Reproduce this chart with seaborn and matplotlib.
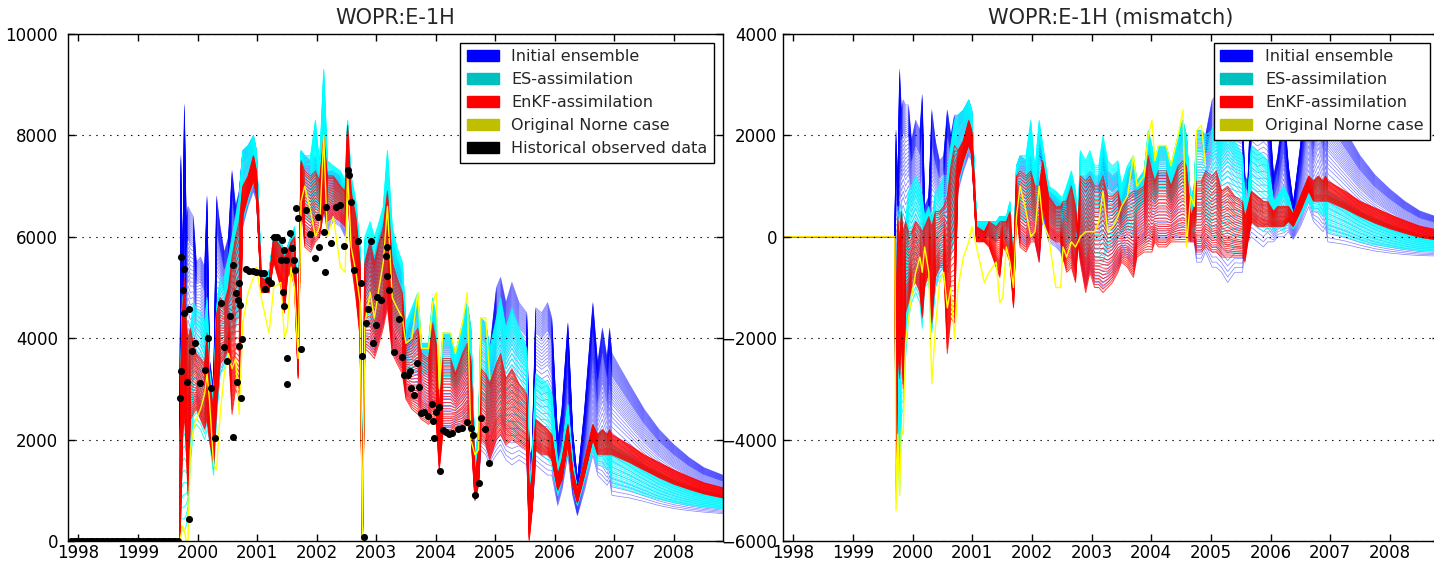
import numpy as np
import pandas as pd
import matplotlib
matplotlib.use("Agg")
import matplotlib.pyplot as plt
from matplotlib.patches import Patch
import seaborn as sns

# ---------------- data ----------------
years = [1997.84, 1999.70, 1999.72, 1999.75, 1999.78, 1999.81, 1999.84, 1999.88, 1999.93, 1999.98,
         2000.05, 2000.12, 2000.16, 2000.20, 2000.27, 2000.32, 2000.38, 2000.45, 2000.52, 2000.58,
         2000.64, 2000.70, 2000.76, 2000.85, 2000.94, 2000.99, 2001.07, 2001.20, 2001.28, 2001.40,
         2001.46, 2001.51, 2001.57, 2001.63, 2001.69, 2001.74, 2001.80, 2001.90, 2001.98, 2002.05,
         2002.12, 2002.18, 2002.28, 2002.40, 2002.48, 2002.52, 2002.58, 2002.66, 2002.73, 2002.77,
         2002.81, 2002.90, 2002.97, 2003.05, 2003.12, 2003.19, 2003.27, 2003.35, 2003.44, 2003.50,
         2003.60, 2003.70, 2003.76, 2003.88, 2003.95, 2004.01, 2004.06, 2004.12, 2004.25, 2004.33,
         2004.45, 2004.53, 2004.59, 2004.66, 2004.72, 2004.76, 2004.84, 2004.91, 2005.02, 2005.09,
         2005.18, 2005.28, 2005.40, 2005.53, 2005.57, 2005.62, 2005.68, 2005.78, 2005.88, 2005.95,
         2006.05, 2006.12, 2006.22, 2006.30, 2006.38, 2006.50, 2006.64, 2006.72, 2006.80, 2006.88,
         2006.92, 2006.96, 2007.25, 2007.50, 2007.75, 2008.00, 2008.25, 2008.50, 2008.82]

blue_lo = [0, 0, 2800, 3300, 3600, 2500, 2600, 2400, 2600, 2800,
           2500, 2300, 2600, 2200, 1400, 2500, 3300, 3500, 3800, 4100,
           4300, 4600, 6200, 6600, 6900, 6700, 5000, 5000, 5700, 5500,
           5300, 5400, 5500, 5300, 3600, 6800, 5900, 5800, 6000, 6000,
           6500, 6100, 6300, 6200, 6000, 7000, 5800, 5000, 4200, 0,
           3900, 3800, 3700, 4000, 4300, 4700, 3800, 3600, 3400, 2900,
           2800, 2700, 2600, 2500, 2600, 2600, 1500, 2200, 2200, 2300,
           2300, 2400, 2200, 800, 1100, 1800, 1700, 1500, 1700, 1800,
           1600, 1500, 1600, 1500, 300, 600, 1500, 1400, 1300, 1300,
           700, 1000, 1700, 900, 500, 1000, 1700, 1300, 1200, 1100,
           1200, 900, 850, 780, 700, 640, 600, 570, 540]
blue_hi = [0, 0, 7600, 5200, 8600, 6300, 6600, 6500, 6400, 5500,
           5600, 5400, 6800, 3600, 3000, 6800, 6200, 5700, 6000, 7300,
           6600, 6900, 7700, 7800, 8000, 7700, 5300, 5300, 6000, 5900,
           5700, 5800, 6000, 6000, 4000, 7700, 7600, 7500, 7600, 7300,
           9000, 7300, 7300, 7200, 7000, 8100, 7000, 6600, 5700, 200,
           5500, 6000, 5600, 6100, 6400, 7500, 6000, 5600, 5300, 4100,
           4500, 4800, 3900, 3900, 4700, 4300, 3000, 4100, 4100, 3700,
           4300, 4700, 4200, 1600, 2200, 4400, 4300, 3800, 5000, 5200,
           4700, 5100, 4700, 4500, 1700, 1800, 4600, 4500, 4700, 4400,
           2000, 2600, 4300, 2200, 1200, 2600, 4700, 3500, 4200, 3600,
           4200, 3700, 3100, 2600, 2200, 1900, 1650, 1450, 1300]
cyan_lo = [0, 0, 300, 200, 200, 300, 500, 1500, 2200, 2300,
           2200, 2000, 2200, 2000, 1300, 2400, 3300, 3400, 3700, 4000,
           4200, 4500, 6300, 6700, 7100, 6800, 5000, 5000, 5700, 5500,
           5300, 5400, 5500, 5300, 3600, 7000, 6400, 6300, 6500, 6400,
           7000, 6600, 6700, 6600, 6400, 7200, 6000, 5400, 4500, 0,
           4200, 4300, 4100, 4500, 4800, 5200, 4500, 4200, 4000, 3400,
           3400, 3300, 3300, 3300, 3400, 3400, 2200, 3200, 3200, 3000,
           3300, 3400, 3100, 900, 1200, 2800, 2700, 2200, 2300, 2400,
           2200, 2100, 2000, 1900, 200, 700, 1800, 1700, 1600, 1500,
           900, 1200, 1800, 1100, 700, 1200, 1800, 1500, 1500, 1400,
           1500, 1100, 1000, 900, 820, 760, 710, 670, 640]
cyan_hi = [0, 0, 3500, 4800, 5000, 4500, 3900, 4200, 4700, 4600,
           4500, 4300, 4800, 3400, 2800, 4600, 5200, 5200, 5600, 6000,
           6400, 6800, 7700, 7800, 8000, 7700, 5300, 5300, 6000, 5900,
           5700, 5800, 6000, 6200, 4000, 7700, 7600, 7600, 8300, 7400,
           9300, 7500, 7400, 7300, 7100, 8300, 7200, 6700, 5800, 200,
           6000, 6300, 6000, 6300, 6600, 7700, 6200, 5800, 5500, 4300,
           4600, 4900, 3900, 3900, 4800, 4400, 3000, 4100, 4100, 3700,
           4300, 4700, 4200, 1600, 2200, 4400, 4300, 3800, 4400, 4800,
           4200, 4600, 4200, 3800, 1200, 1500, 3300, 3200, 3100, 2900,
           1500, 1800, 2700, 1600, 1000, 1600, 2300, 2100, 2200, 2100,
           2200, 1900, 1700, 1500, 1350, 1200, 1080, 980, 900]
red_lo = [0, 0, 500, 2000, 2500, 1800, 900, 2400, 2500, 2600,
          2400, 2200, 2400, 2000, 1500, 2600, 3500, 3600, 3800, 2500,
          3000, 2800, 6400, 6800, 7100, 6800, 4900, 4900, 5500, 5000,
          4500, 5200, 5300, 5000, 3200, 6800, 5800, 5700, 5900, 6000,
          6500, 6300, 6400, 6300, 6200, 7100, 5500, 4800, 4000, 0,
          3800, 3700, 3600, 3900, 4200, 4600, 3700, 3500, 3300, 2800,
          2600, 2500, 2400, 2300, 2400, 2300, 1400, 2100, 2100, 2200,
          2200, 2300, 2100, 800, 1100, 2000, 1900, 1600, 2000, 2100,
          1900, 2000, 1900, 1800, 0, 600, 1800, 1700, 1700, 1600,
          1000, 1200, 1900, 1100, 750, 1300, 2000, 1700, 1700, 1700,
          1700, 1700, 1550, 1400, 1250, 1120, 1020, 930, 850]
red_hi = [0, 0, 3400, 4600, 5200, 4300, 4000, 4200, 3900, 3700,
          3600, 3500, 4100, 3200, 2600, 4500, 4800, 4700, 5000, 5600,
          6000, 6300, 7000, 7200, 7600, 7300, 5200, 5100, 6000, 5800,
          5600, 5700, 5900, 6000, 4000, 7500, 7300, 7200, 7300, 7100,
          8000, 7200, 7200, 7000, 6900, 8200, 6900, 6400, 5500, 200,
          5500, 5900, 5500, 5900, 6200, 6900, 5500, 5200, 4900, 3900,
          4000, 4200, 3700, 3600, 4300, 3900, 2600, 3600, 3600, 3300,
          3700, 3900, 3600, 1300, 1800, 3400, 3300, 3100, 3500, 3700,
          3200, 3400, 3100, 2900, 900, 1300, 2400, 2300, 2200, 2100,
          1300, 1600, 2300, 1400, 1000, 1600, 2300, 2100, 2200, 2100,
          2200, 2100, 1900, 1700, 1550, 1400, 1270, 1150, 1050]
norne = [0, 0, 100, 300, 200, 0, 0, 1800, 2200, 2400,
         2600, 2900, 3300, 2800, 1500, 1400, 2500, 3300, 3700, 3400,
         3600, 2500, 4300, 4900, 5200, 5400, 4800, 4100, 5000, 5100,
         4000, 4200, 5400, 5000, 3600, 6700, 7000, 6500, 6000, 6200,
         8000, 6000, 6400, 5400, 5300, 7300, 5800, 5300, 4700, 0,
         4300, 4900, 4400, 5000, 5500, 6600, 4800, 4600, 4400, 3900,
         4000, 4900, 3800, 3800, 4700, 4900, 3000, 4100, 4100, 3700,
         4300, 4900, 2000, 1700, 1800, 4400, 4400, 3200, np.nan, np.nan,
         np.nan, np.nan, np.nan, np.nan, np.nan, np.nan, np.nan, np.nan, np.nan, np.nan,
         np.nan, np.nan, np.nan, np.nan, np.nan, np.nan, np.nan, np.nan, np.nan, np.nan,
         np.nan, np.nan, np.nan, np.nan, np.nan, np.nan, np.nan, np.nan, np.nan]
# observed-rate reference used for the mismatch panel
obs_ref = [0, 0, 5500, 4200, 5300, 3800, 3900, 3900, 3800, 3600,
           3300, 3300, 4000, 3000, 2200, 4300, 4300, 4200, 4400, 4800,
           4600, 4500, 5300, 5300, 5300, 5200, 5000, 5000, 5700, 5600,
           5300, 5400, 5600, 5500, 4600, 6300, 6000, 6000, 6000, 6100,
           7000, 5700, 6400, 6400, 6300, 7500, 6200, 5400, 4900, 100,
           4300, 4800, 4300, 4900, 5200, 5700, 4700, 4400, 4000, 3300,
           3200, 3300, 2800, 2600, 2700, 2600, 1500, 2300, 2300, 2300,
           2300, 2400, 2200, 900, 1200, 2300, 2200, 1800, 2300, 2400,
           2300, 2400, 2300, 2200, 500, 700, 1500, 1500, 1500, 1400,
           800, 1000, 1700, 800, 550, 800, 1100, 1000, 1000, 1000,
           1000, 1000, 1000, 1000, 980, 960, 950, 940, 920]

blue_members = [0.00, 0.03, 0.06, 0.09, 0.12, 0.16, 0.20, 0.24, 0.28, 0.32,
                0.36, 0.40, 0.44, 0.48, 0.52, 0.55, 0.58, 0.61, 0.64, 0.66,
                0.68, 0.70, 0.72, 0.74, 0.76, 0.78, 0.80, 0.82, 0.84, 0.85,
                0.86, 0.87, 0.88, 0.89, 0.90, 0.91, 0.92, 0.93, 0.94, 0.95,
                0.96, 0.97, 0.98, 0.99, 1.00]
cyan_members = [0.00, 0.05, 0.10, 0.15, 0.20, 0.25, 0.30, 0.35, 0.40, 0.45,
                0.50, 0.55, 0.60, 0.64, 0.68, 0.72, 0.75, 0.78, 0.81, 0.84,
                0.86, 0.88, 0.90, 0.92, 0.94, 0.96, 0.98, 1.00]
red_members = [0.00, 0.03, 0.06, 0.09, 0.12, 0.15, 0.18, 0.21, 0.24, 0.27,
               0.30, 0.34, 0.38, 0.42, 0.46, 0.50, 0.54, 0.58, 0.62, 0.66,
               0.70, 0.74, 0.78, 0.82, 0.86, 0.90, 0.94, 0.97, 1.00]

obs_years = [1997.88, 1997.92, 1997.96, 1998.00, 1998.04, 1998.08, 1998.13, 1998.17, 1998.21,
             1998.25, 1998.29, 1998.33, 1998.38, 1998.42, 1998.46, 1998.50, 1998.54, 1998.58,
             1998.63, 1998.67, 1998.71, 1998.75, 1998.79, 1998.83, 1998.88, 1998.92, 1998.96,
             1999.00, 1999.04, 1999.08, 1999.13, 1999.17, 1999.21, 1999.25, 1999.29, 1999.33,
             1999.38, 1999.42, 1999.46, 1999.50, 1999.54, 1999.58, 1999.63, 1999.67,
             1999.70, 1999.72, 1999.72, 1999.75, 1999.77, 1999.78, 1999.82, 1999.86, 1999.86,
             1999.91, 1999.96, 2000.05, 2000.13, 2000.17, 2000.22, 2000.30, 2000.40, 2000.45,
             2000.49, 2000.55, 2000.59, 2000.60, 2000.64, 2000.67, 2000.68, 2000.69, 2000.70,
             2000.72, 2000.73, 2000.74, 2000.81, 2000.87, 2000.93, 2000.99, 2001.06, 2001.11,
             2001.14, 2001.18, 2001.23, 2001.28, 2001.34, 2001.40, 2001.42, 2001.43, 2001.45,
             2001.46, 2001.48, 2001.50, 2001.51, 2001.55, 2001.59, 2001.62, 2001.63, 2001.65,
             2001.69, 2001.73, 2001.82, 2001.89, 2001.98, 2002.02, 2002.04, 2002.12, 2002.14,
             2002.15, 2002.24, 2002.32, 2002.40, 2002.46, 2002.53, 2002.55, 2002.57, 2002.63,
             2002.70, 2002.74, 2002.77, 2002.80, 2002.83, 2002.87, 2002.91, 2002.94, 2002.99,
             2003.02, 2003.08, 2003.16, 2003.18, 2003.19, 2003.22, 2003.30, 2003.39, 2003.44,
             2003.47, 2003.53, 2003.57, 2003.58, 2003.64, 2003.69, 2003.72, 2003.75, 2003.81,
             2003.87, 2003.93, 2003.95, 2003.97, 2004.00, 2004.06, 2004.08, 2004.12, 2004.17,
             2004.22, 2004.28, 2004.37, 2004.45, 2004.53, 2004.59, 2004.62, 2004.66, 2004.72,
             2004.76, 2004.82, 2004.90]
obs_values = [0, 0, 0, 0, 0, 0, 0, 0, 0,
              0, 0, 0, 0, 0, 0, 0, 0, 0,
              0, 0, 0, 0, 0, 0, 0, 0, 0,
              0, 0, 0, 0, 0, 0, 0, 0, 0,
              0, 0, 0, 0, 0, 0, 0, 0,
              2814, 5607, 3360, 4950, 4490, 5370, 3140, 4580, 428,
              3753, 3899, 3123, 3372, 3997, 3024, 2025, 4687, 3820,
              3550, 4437, 2057, 5443, 4897, 3141, 4752, 5080, 3845,
              4654, 2826, 3977, 5358, 5330, 5320, 5300, 5280, 5280,
              4963, 5146, 5080, 6000, 6000, 5550, 5936, 4917, 5740,
              4634, 5550, 3603, 3090, 6080, 5772, 5541, 5344, 6560,
              6364, 3780, 6527, 6054, 5575, 6396, 5803, 6100, 5300,
              6580, 5870, 6592, 6626, 5817, 7316, 7218, 6692, 5344,
              5922, 5081, 3648, 85, 4293, 4569, 5922, 3910, 4259,
              4818, 4752, 5620, 5226, 5803, 4950, 3733, 4372, 3635,
              3274, 3274, 3360, 3011, 2879, 3504, 3044, 2518, 2550,
              2465, 2702, 2373, 2025, 2550, 2649, 1387, 2189, 2150,
              2120, 2130, 2202, 2222, 2353, 2235, 2090, 907, 1150,
              2420, 2202, 1532]

legend_labels = ["Initial ensemble", "ES-assimilation", "EnKF-assimilation",
                 "Original Norne case", "Historical observed data"]
titles = ["WOPR:E-1H", "WOPR:E-1H (mismatch)"]

# ---------------- style ----------------
sns.set_style("ticks")
plt.rcParams.update({
    "font.family": ["DejaVu Sans"],
    "font.size": 12,
    "axes.linewidth": 1.0,
    "axes.edgecolor": "black",
    "xtick.direction": "in",
    "ytick.direction": "in",
    "xtick.color": "black",
    "ytick.color": "black",
    "xtick.labelsize": 12,
    "ytick.labelsize": 12,
    "lines.scale_dashes": False,
    "legend.fancybox": False,
    "legend.edgecolor": "black",
    "legend.framealpha": 1.0,
    "legend.borderpad": 0.4,
    "legend.labelspacing": 0.5,
    "legend.handlelength": 2.0,
    "legend.handleheight": 0.7,
    "legend.handletextpad": 0.8,
    "legend.borderaxespad": 0.55,
})

yrs = np.asarray(years, dtype=float)
ref = np.asarray(obs_ref, dtype=float)


def ensemble_frame(lo, hi, members, offset):
    lo = np.asarray(lo, dtype=float)
    hi = np.asarray(hi, dtype=float)
    frames = []
    for i, w in enumerate(members):
        frames.append(pd.DataFrame({"year": yrs,
                                    "value": lo + w * (hi - lo) - offset,
                                    "member": i}))
    return pd.concat(frames, ignore_index=True)


fig = plt.figure(figsize=(14.34, 5.63), dpi=100)
ax_l = fig.add_axes([0.04763, 0.03908, 0.45635, 0.90053])
ax_r = fig.add_axes([0.54623, 0.03908, 0.45710, 0.90053])

ens_specs = [
    (blue_lo, blue_hi, blue_members, (0, 0, 1), 0.5, 0.5),
    (cyan_lo, cyan_hi, cyan_members, (0, 1, 1), 0.7, 0.85),
    (red_lo, red_hi, red_members, (1, 0, 0), 0.7, 0.75),
]

for ax, offset in [(ax_l, np.zeros_like(ref)), (ax_r, ref)]:
    for lo, hi, mem, col, lw, al in ens_specs:
        df = ensemble_frame(lo, hi, mem, offset)
        sns.lineplot(data=df, x="year", y="value", units="member", estimator=None,
                     sort=False, color=col, lw=lw, alpha=al, ax=ax, legend=False)
    ny = pd.DataFrame({"year": yrs, "value": np.asarray(norne, dtype=float) - offset}).dropna()
    sns.lineplot(data=ny, x="year", y="value", sort=False, color=(1, 1, 0), lw=1.0,
                 ax=ax, legend=False)

obs_df = pd.DataFrame({"year": obs_years, "value": obs_values})
sns.scatterplot(data=obs_df, x="year", y="value", color="black", s=26, linewidth=0,
                ax=ax_l, legend=False, zorder=5)

leg_colors = [(0, 0, 1), (0, 0.75, 0.75), (1, 0, 0), (0.75, 0.75, 0), (0, 0, 0)]

for k, ax in enumerate([ax_l, ax_r]):
    ax.set_xlim(1997.83, 2008.82)
    ax.set_xticks(list(range(1998, 2009)))
    ax.set_xticklabels([str(y) for y in range(1998, 2009)])
    if k == 0:
        ax.set_ylim(0, 10000)
        ax.set_yticks([0, 2000, 4000, 6000, 8000, 10000])
    else:
        ax.set_ylim(-6000, 4000)
        ax.set_yticks([-6000, -4000, -2000, 0, 2000, 4000])
    ax.set_xlabel("")
    ax.set_ylabel("")
    ax.tick_params(top=True, right=True, direction="in", length=5, width=1)
    ax.tick_params(axis="x", pad=2.5)
    ax.tick_params(axis="y", pad=7.5 if k == 0 else 4.5)
    ax.yaxis.grid(True, color="black", linestyle=(0, (1, 4)), linewidth=0.8)
    ax.xaxis.grid(False)
    ax.set_axisbelow(False)
    for s in ax.spines.values():
        s.set_visible(True)
        s.set_color("black")
        s.set_linewidth(1.0)
    ax.set_title(titles[k], fontsize=15, pad=7)
    n = 5 if k == 0 else 4
    handles = [Patch(facecolor=leg_colors[i], edgecolor=leg_colors[i], label=legend_labels[i])
               for i in range(n)]
    leg = ax.legend(handles=handles, loc="upper right", fontsize=11.5)
    leg.get_frame().set_linewidth(1.0)

fig.savefig("out.png", dpi=100, facecolor="white")
